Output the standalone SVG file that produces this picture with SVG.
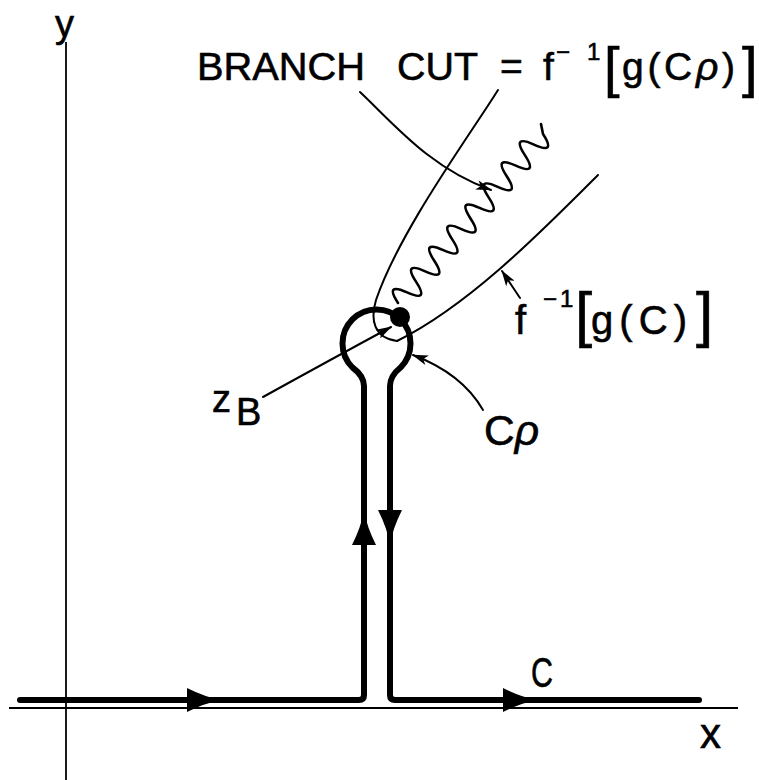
<svg xmlns="http://www.w3.org/2000/svg" xmlns:xlink="http://www.w3.org/1999/xlink" width="759" height="780" viewBox="0 0 759 780">
<style>
.t{font-family:"Liberation Sans","Arial",sans-serif;fill:#000;stroke:#000;stroke-width:0.6}
.thin{fill:none;stroke:#000;stroke-width:2;stroke-linecap:round}
.axis{fill:none;stroke:#000;stroke-width:1.8}
.thick{fill:none;stroke:#000;stroke-width:6;stroke-linejoin:round;stroke-linecap:round}
</style>
<defs>
<marker id="ah" viewBox="0 0 16 10" refX="15" refY="5" markerWidth="16" markerHeight="10" orient="auto" markerUnits="userSpaceOnUse">
<path d="M0,0 L16,5 L0,10 L4,5 z" fill="#000"/>
</marker>
<path id="big" d="M0,0 Q-16,-3 -34,-12 L-34,12 Q-16,3 0,0 Z" fill="#000"/>
</defs>
<rect width="759" height="780" fill="#fff"/>
<g id="axes">
<line class="axis" x1="66" y1="42" x2="66" y2="780"/>
<line class="axis" x1="9" y1="708" x2="738" y2="708"/>
</g>
<g id="contour-C">
<path class="thick" d="M20,700 H359 Q364,700 364,695 V386 Q364,376 352.5,367.5 A34,34 0 1 1 400.5,367.5 Q390,376 390,386 V695 Q390,700 395,700 H699"/>
<use xlink:href="#big" transform="translate(221,700)"/>
<use xlink:href="#big" transform="translate(537,700)"/>
<use xlink:href="#big" transform="translate(364,511) rotate(-90)"/>
<use xlink:href="#big" transform="translate(390,544) rotate(90)"/>
</g>
<g id="branch-cut">
<path fill="none" stroke="#000" stroke-width="2.6" stroke-linecap="round" d="M398,303 Q384.3,282.1 407.06,292.44 T416.13,281.88 T425.19,271.31 T434.25,260.75 T443.31,250.19 T452.38,239.63 T461.44,229.06 T470.50,218.50 T479.56,207.94 T488.63,197.38 T497.69,186.81 T506.75,176.25 T515.81,165.69 T524.88,155.13 T533.94,144.56 T543,134 L541,124"/>
</g>
<g id="z-B">
<circle cx="400" cy="317" r="10" fill="#000"/>
</g>
<g id="curves">
<path class="thin" d="M498,90 C470,135 400,230 376,300 C370,320 374,338 397,341"/>
<path class="thin" d="M598,175 C545,228 470,305 397,341"/>
</g>
<g id="connectors">
<path class="thin" marker-end="url(#ah)" d="M360,92 C395,125 430,168 491,190"/>
<path class="thin" marker-end="url(#ah)" d="M520,298 L502,271"/>
<path class="thin" marker-end="url(#ah)" d="M263,397 Q330,360 391,327"/>
<path class="thin" marker-end="url(#ah)" d="M483,410 Q462,373.5 413,355"/>
</g>
<g id="label-y"><text class="t" x="55" y="37" font-size="38">y</text></g>
<g id="label-x"><text class="t" x="700" y="748" font-size="42">x</text></g>
<g id="label-C"><text class="t" x="531" y="687" font-size="43" textLength="22" lengthAdjust="spacingAndGlyphs">C</text></g>
<g id="label-branch-cut">
<text class="t" x="197" y="80" font-size="39" textLength="168" lengthAdjust="spacingAndGlyphs">BRANCH</text>
<text class="t" x="397" y="80" font-size="39" textLength="81" lengthAdjust="spacingAndGlyphs">CUT</text>
<text class="t" x="500" y="80" font-size="39">=</text>
<text class="t" x="543" y="80" font-size="39">f</text>
<text class="t" x="556" y="60" font-size="24">−</text>
<text class="t" x="587" y="60" font-size="24">1</text>
<text class="t" x="604" y="86" font-size="56" stroke-width="0">[</text>
<text class="t" x="622" y="80" font-size="39" textLength="113" lengthAdjust="spacing">g(C<tspan font-style="italic">ρ</tspan>)</text>
<text class="t" x="742" y="86" font-size="56" stroke-width="0">]</text>
</g>
<g id="label-fgC">
<text class="t" x="515" y="334" font-size="40">f</text>
<text class="t" x="543" y="307" font-size="24">−</text>
<text class="t" x="560" y="307" font-size="24">1</text>
<text class="t" x="575" y="335" font-size="62" stroke-width="0">[</text>
<text class="t" x="591" y="334" font-size="40" textLength="96" lengthAdjust="spacing">g(C)</text>
<text class="t" x="696" y="335" font-size="62" stroke-width="0">]</text>
</g>
<g id="label-zB">
<text class="t" x="212" y="412" font-size="38">z</text>
<text class="t" x="236" y="425" font-size="38">B</text>
</g>
<g id="label-Crho">
<text class="t" x="484" y="445" font-size="42" textLength="55" lengthAdjust="spacingAndGlyphs">C<tspan font-style="italic">ρ</tspan></text>
</g>
</svg>
